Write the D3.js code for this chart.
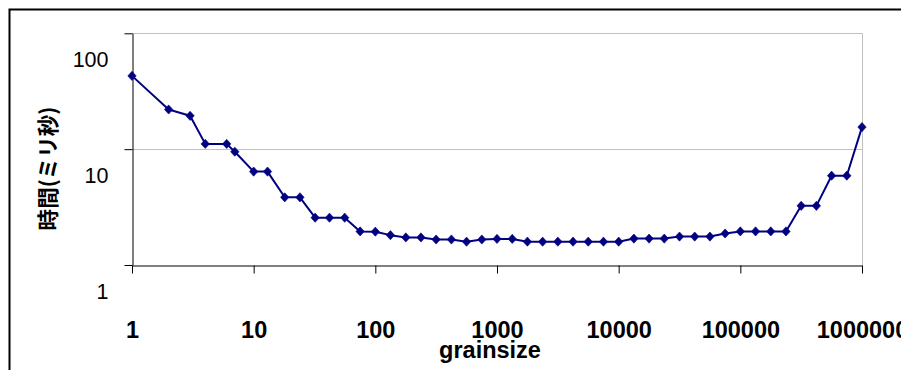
<!DOCTYPE html>
<html>
<head>
<meta charset="utf-8">
<script src="https://cdn.jsdelivr.net/npm/d3@7/dist/d3.min.js"></script>
<style>
  html, body { margin: 0; padding: 0; background: #fff; }
  svg { display: block; }
</style>
</head>
<body>
<svg id="chart" width="901" height="370"></svg>
<script>
const grainsize = [1,2,3,4,6,7,10,13,18,24,32,42,56,75,100,
  133,178,237,316,422,562,750,1000,1334,1778,2371,3162,4217,5623,7499,10000,
  13335,17783,23714,31623,42170,56234,74989,100000,133352,177828,237137,316228,421697,562341,749894,1000000];
const timeMs = [42.9,22.0,19.4,11.1,11.1,9.5,6.4,6.4,3.84,3.84,2.56,2.56,2.56,1.95,1.94,
  1.81,1.73,1.73,1.66,1.66,1.59,1.66,1.68,1.68,1.59,1.59,1.59,1.59,1.59,1.59,1.59,
  1.69,1.69,1.69,1.76,1.76,1.76,1.87,1.95,1.95,1.95,1.95,3.24,3.24,5.9,5.9,15.5];
const xTicks = [1,10,100,1000,10000,100000,1000000];
const xTickLabels = ["1","10","100","1000","10000","100000","1000000"];
const yTicks = [1,10,100];
const yTickLabels = ["1","10","100"];
const xTitle = "grainsize";
const yTitle = "時間(ミリ秒)";

const svg = d3.select("#chart");
const plot = {left: 132, right: 862, top: 33.3, bottom: 265};

const x = d3.scaleLog().domain([1, 1000000]).range([plot.left, plot.right]);
const y = d3.scaleLog().domain([1, 100]).range([plot.bottom, plot.top]);

// outer frame
svg.append("rect").attr("x", 9.5).attr("y", 9.5).attr("width", 920).attr("height", 400)
  .attr("fill", "#fff").attr("stroke", "#000").attr("stroke-width", 2);

// gridlines
svg.append("g").selectAll("line").data(yTicks.filter(d => d > 1)).join("line")
  .attr("x1", plot.left).attr("x2", plot.right)
  .attr("y1", d => Math.round(y(d)) + 0.5).attr("y2", d => Math.round(y(d)) + 0.5)
  .attr("stroke", "#c0c0c0").attr("stroke-width", 1);
svg.append("line")
  .attr("x1", Math.round(x(1000000)) + 0.5).attr("x2", Math.round(x(1000000)) + 0.5)
  .attr("y1", plot.top).attr("y2", plot.bottom)
  .attr("stroke", "#c0c0c0").attr("stroke-width", 1);

// y axis
const yAxis = d3.axisLeft(y).tickValues(yTicks).tickSize(8).tickSizeOuter(0)
  .tickFormat((d, i) => yTickLabels[i]);
const gy = svg.append("g").attr("transform", `translate(${plot.left + 0.5},0)`).call(yAxis);
gy.select(".domain").attr("stroke", "#000");
gy.selectAll(".tick line").attr("stroke", "#000");
gy.selectAll(".tick text")
  .attr("x", -24).attr("dy", "0.35em").attr("y", 26)
  .attr("font-family", "'Liberation Sans', Arial, sans-serif")
  .attr("font-size", 21.5).attr("fill", "#000");

// x axis
const xAxis = d3.axisBottom(x).tickValues(xTicks).tickSize(8).tickSizeOuter(0)
  .tickFormat((d, i) => xTickLabels[i]);
const gx = svg.append("g").attr("transform", `translate(0,${plot.bottom + 0.5})`).call(xAxis);
gx.select(".domain").attr("stroke", "#000");
gx.selectAll(".tick line").attr("stroke", "#000");
gx.selectAll(".tick text")
  .attr("y", 72.5).attr("dy", 0)
  .attr("font-family", "'Liberation Sans', Arial, sans-serif")
  .attr("font-weight", "bold")
  .attr("font-size", 23.5).attr("fill", "#000");

// axis titles
svg.append("text").attr("x", 490).attr("y", 358).attr("text-anchor", "middle")
  .attr("font-family", "'Liberation Sans', Arial, sans-serif")
  .attr("font-weight", "bold").attr("font-size", 23.5).attr("fill", "#000")
  .text(xTitle);
svg.append("text")
  .attr("transform", "translate(48,168.5) rotate(-90)")
  .attr("text-anchor", "middle").attr("dy", "0.36em")
  .attr("font-family", "'Noto Sans CJK JP', sans-serif")
  .attr("font-weight", "bold").attr("font-size", 21.5).attr("fill", "#000")
  .text(yTitle);

// series
const pts = grainsize.map((g, i) => [g, timeMs[i]]);
const line = d3.line().x(d => x(d[0])).y(d => y(d[1]));
svg.append("path").datum(pts).attr("d", line)
  .attr("fill", "none").attr("stroke", "#000080").attr("stroke-width", 2)
  .attr("stroke-linejoin", "round");
svg.append("g").selectAll("path").data(pts).join("path")
  .attr("transform", d => `translate(${x(d[0])},${y(d[1])})`)
  .attr("d", "M0,-4.6L4.2,0L0,4.6L-4.2,0Z")
  .attr("fill", "#000080").attr("stroke", "#000080").attr("stroke-width", 0.6);
</script>
</body>
</html>
